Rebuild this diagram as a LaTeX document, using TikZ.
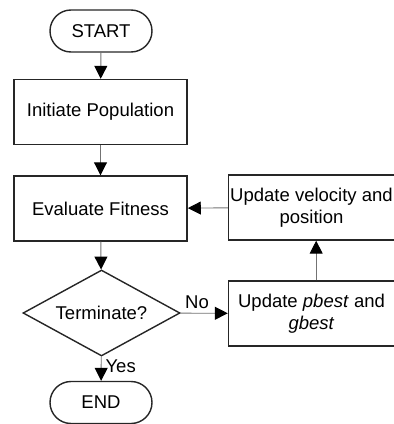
\documentclass[tikz,border=0pt]{standalone}
\usepackage{fontspec}
\setmainfont{Liberation Sans}
\usetikzlibrary{shapes.geometric, shapes.misc, arrows.meta}

\tikzset{
    box/.style={draw=black!85, line width=1.2pt, rectangle, inner sep=0pt,
        minimum width=5.2cm, minimum height=1.95cm, align=center},
    pill/.style={draw=black!85, line width=1.2pt, rounded rectangle, inner sep=0pt,
        minimum width=3.06cm, minimum height=1.26cm},
    decide/.style={draw=black!85, line width=1.2pt, diamond, inner sep=0pt,
        minimum width=4.71cm, minimum height=2.58cm, aspect=1.83},
    flow/.style={draw=black!55, line width=0.8pt,
        -{Triangle[length=11pt, width=11pt, color=black]}},
}

\begin{document}
\begin{tikzpicture}[x=0.03cm, y=-0.03cm, font=\fontsize{15.8}{18.5}\selectfont]
    \useasboundingbox (0,0) rectangle (393,424);

    \node[pill] (start) at (101,31) {START};
    \node[box] (init) at (100.5,112) {Initiate Population};
    \node[box] (eval) at (100.5,208.5) {Evaluate Fitness};
    \node[decide] (term) at (101.5,313) {Terminate?};
    \node[pill] (stop) at (101,402.5) {END};

    % right column, cut off by the page edge
    \node[box, minimum width=4.98cm] (pbest) at (311.5,313.5)
        {Update \textit{pbest} and\\\textit{gbest}};
    \node[box, minimum width=4.98cm] (vel) at (311.5,207.5)
        {Update velocity and\\position};

    \draw[flow] (start) -- (init);
    \draw[flow] (init) -- (eval);
    \draw[flow] (eval) -- (term);
    \draw[flow] (term) -- node[right, pos=0.4] {Yes} (stop);
    \draw[flow] (term) -- node[above, pos=0.35] {No} (pbest);
    \draw[flow] ([xshift=0.14cm]pbest.north) -- ([xshift=0.14cm]vel.south);
    \draw[flow] (vel) -- (eval);
\end{tikzpicture}
\end{document}
